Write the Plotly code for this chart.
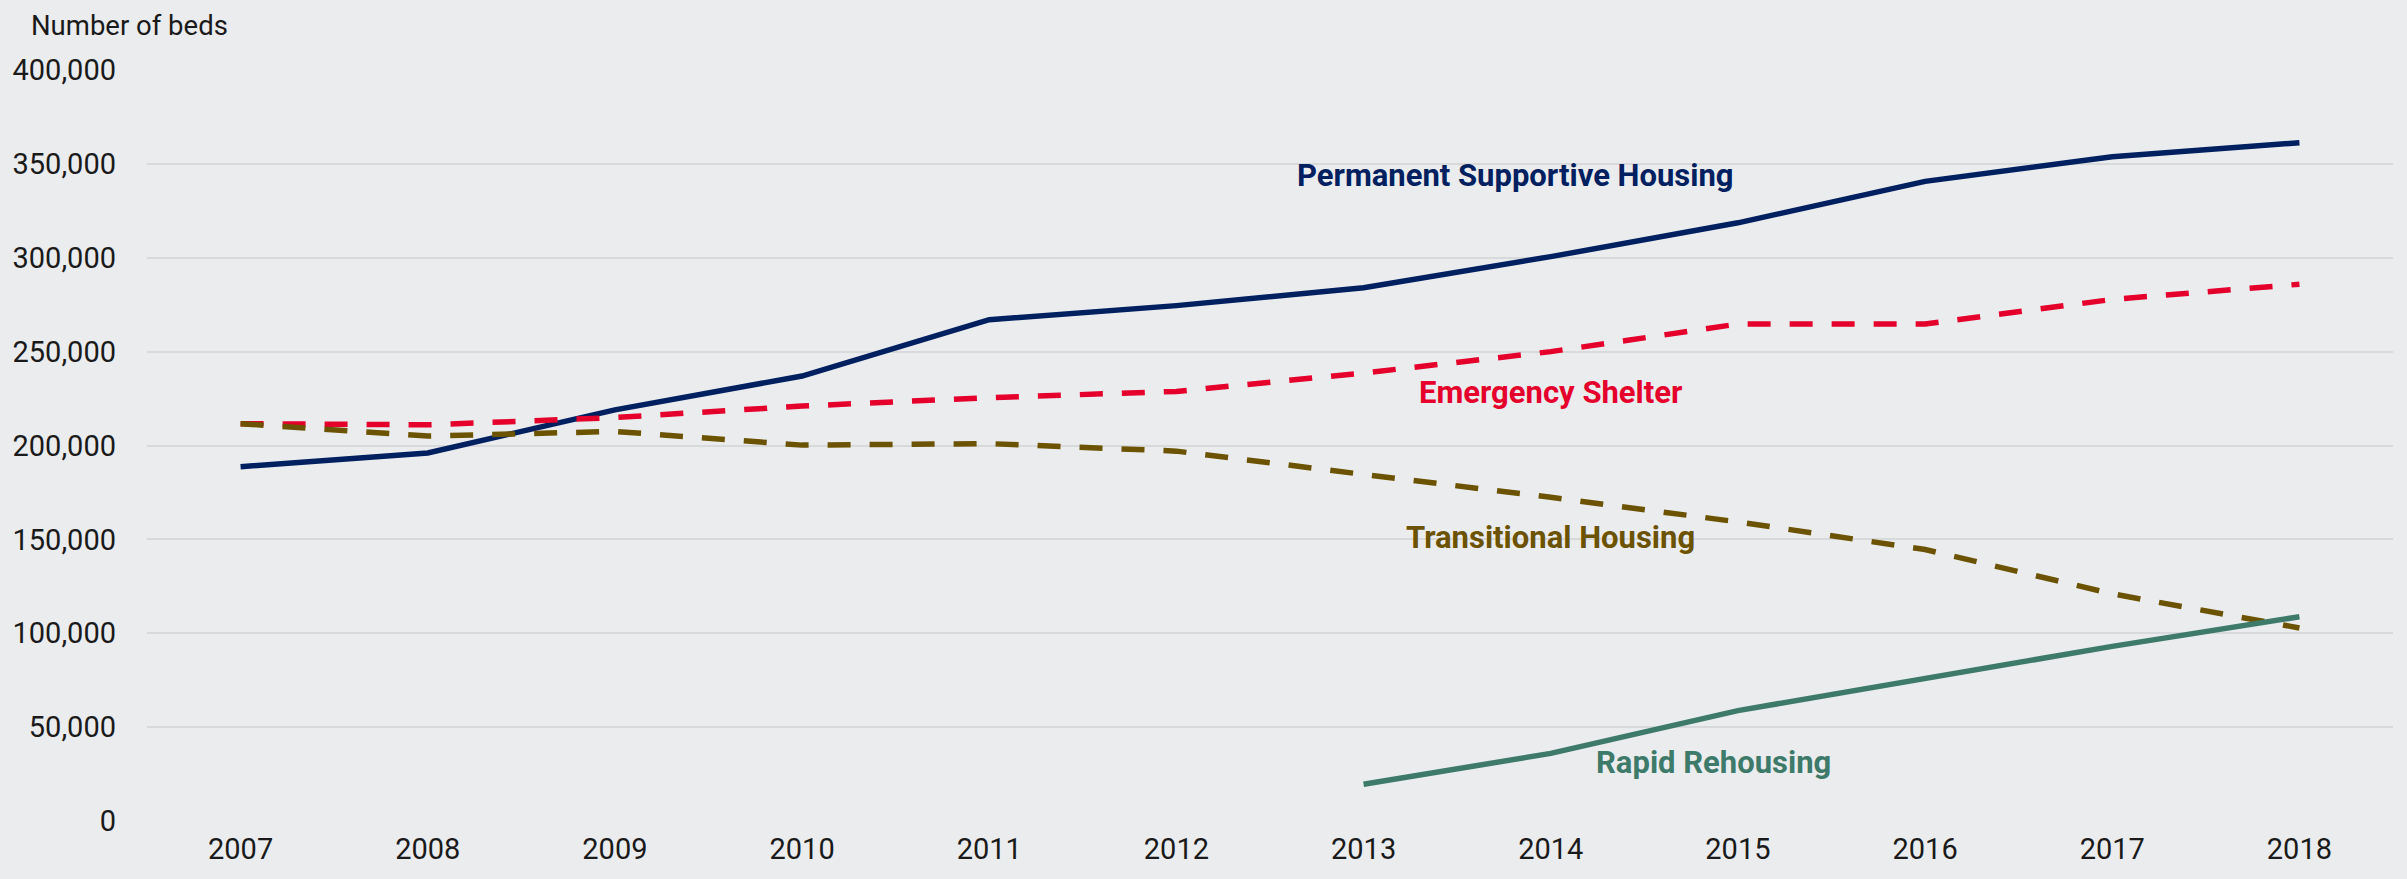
import plotly.graph_objects as go

years = ["2007", "2008", "2009", "2010", "2011", "2012", "2013", "2014", "2015", "2016", "2017", "2018"]
psh = [188700, 196000, 219000, 237000, 267000, 274500, 284000, 300600, 318600, 340700, 353800, 361300]
es = [211600, 211000, 214900, 221000, 225500, 228800, 238600, 250000, 264700, 264700, 277800, 285900]
th = [211600, 205000, 207500, 200200, 201000, 197000, 184600, 172400, 159300, 144600, 121000, 102800]
rrh_years = ["2013", "2014", "2015", "2016", "2017", "2018"]
rrh = [19600, 36000, 58800, 76000, 93000, 108800]

y_ticks = [0, 50000, 100000, 150000, 200000, 250000, 300000, 350000, 400000]
y_labels = ["0", "50,000", "100,000", "150,000", "200,000", "250,000", "300,000", "350,000", "400,000"]

series_names = ["Permanent Supportive Housing", "Emergency Shelter", "Transitional Housing", "Rapid Rehousing"]
colors = ["#002060", "#E4002B", "#6B5300", "#3D7A6A"]

FONT = "Roboto"
TXT = "#1a1a1a"
BG = "#EBECEE"

fig = go.Figure()
fig.add_trace(go.Scatter(x=years, y=psh, mode="lines", name=series_names[0],
                         line=dict(color=colors[0], width=5.5)))
fig.add_trace(go.Scatter(x=years, y=es, mode="lines", name=series_names[1],
                         line=dict(color=colors[1], width=5.5, dash="23px,19px")))
fig.add_trace(go.Scatter(x=years, y=th, mode="lines", name=series_names[2],
                         line=dict(color=colors[2], width=5.5, dash="23px,19px")))
fig.add_trace(go.Scatter(x=rrh_years, y=rrh, mode="lines", name=series_names[3],
                         line=dict(color=colors[3], width=5.5)))

label_pos = [(6.81, 344000), (7.0, 228000), (7.0, 151000), (7.87, 31000)]
for name, col, (lx, ly) in zip(series_names, colors, label_pos):
    fig.add_annotation(x=lx, y=ly, xref="x", yref="y", text="<b>" + name + "</b>",
                       showarrow=False, font=dict(family=FONT, size=31, color=col))

fig.add_annotation(x=0, y=1.0, xref="paper", yref="paper", xshift=-118, yshift=26,
                   text="Number of beds", showarrow=False, xanchor="left", yanchor="bottom",
                   font=dict(family=FONT, size=27.5, color=TXT))

fig.update_layout(
    width=2407, height=879,
    margin=dict(l=145, r=14, t=70, b=58),
    paper_bgcolor=BG, plot_bgcolor=BG,
    showlegend=False,
    hovermode=False,
    font=dict(family=FONT, size=29, color=TXT),
)
fig.update_xaxes(type="category", categoryorder="array", categoryarray=years,
                 range=[-0.5, 11.5], showgrid=False, zeroline=False, showline=False,
                 ticks="", ticklabelstandoff=8,
                 tickfont=dict(family=FONT, size=29, color=TXT))
fig.update_yaxes(range=[0, 400000], tickvals=y_ticks, ticktext=y_labels,
                 showgrid=True, gridcolor="#D8D9DB", gridwidth=2, zeroline=False,
                 showline=False, ticks="", ticklabelstandoff=30,
                 tickfont=dict(family=FONT, size=29, color=TXT))

fig.write_html("out.html",
               config={"displayModeBar": False, "staticPlot": True},
               post_script="document.body.style.margin='0';document.body.style.background='%s';" % BG)
